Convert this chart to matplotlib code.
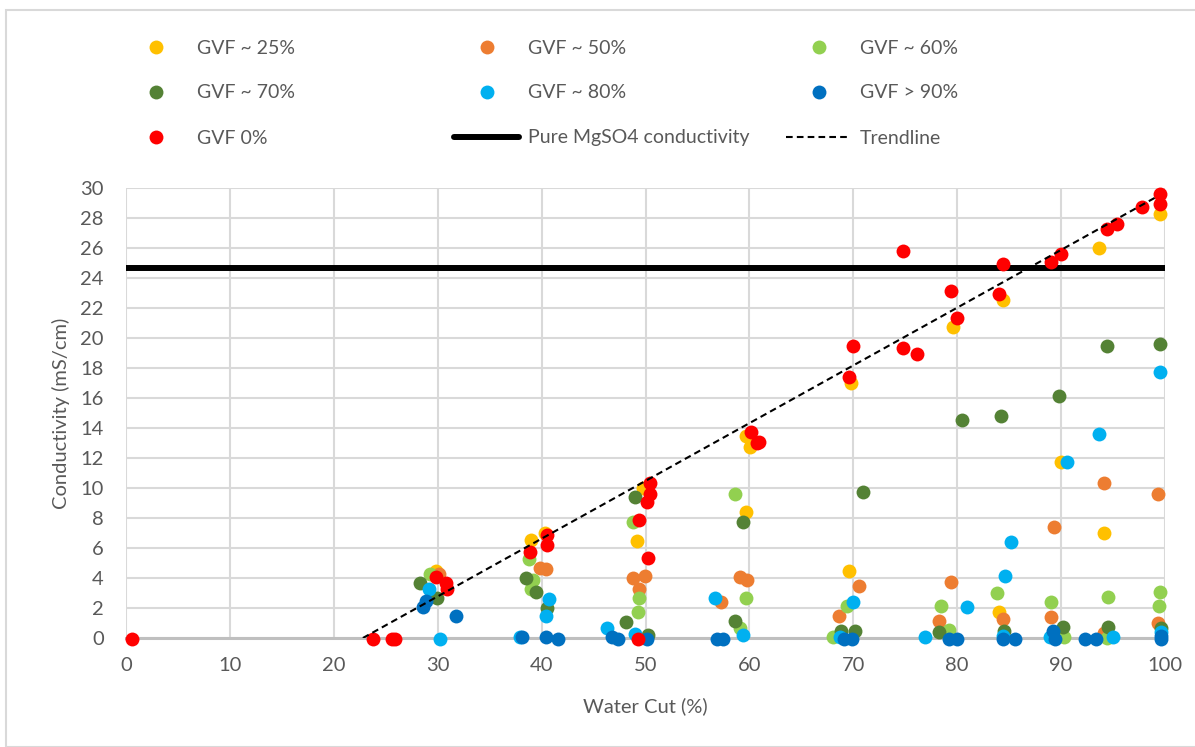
import numpy as np
import matplotlib.pyplot as plt
from matplotlib.lines import Line2D
from matplotlib.patches import Rectangle

plt.rcParams['font.family'] = ['Lato', 'DejaVu Sans']

# GVF ~25%
x25 = [29.8, 38.95, 40.3, 49.8, 49.15, 69.75, 59.7, 60.05, 59.7, 69.6, 79.55, 84.4, 93.6, 99.5, 89.96, 94.15, 84.0]
y25 = [4.5, 6.53, 6.98, 10.0, 6.47, 17.0, 13.47, 12.75, 8.42, 4.47, 20.7, 22.53, 25.98, 28.25, 11.75, 6.98, 1.75]
# GVF ~50%
x50 = [30.1, 39.8, 40.4, 48.8, 49.95, 49.4, 59.1, 59.8, 57.3, 68.6, 70.55, 79.4, 78.25, 94.15, 99.35, 89.35, 84.4, 89.0, 99.35, 94.1]
y50 = [4.3, 4.7, 4.6, 3.98, 4.13, 3.3, 4.04, 3.9, 2.42, 1.49, 3.49, 3.76, 1.13, 10.3, 9.6, 7.38, 1.24, 1.38, 1.0, 0.32]
# GVF ~60%
x60 = [29.26, 38.8, 39.2, 39.0, 48.8, 49.4, 49.25, 58.6, 59.7, 59.1, 68.0, 69.4, 78.4, 79.25, 83.8, 89.0, 94.55, 99.5, 99.4, 90.3, 94.4]
y60 = [4.3, 5.3, 3.87, 3.3, 7.75, 2.7, 1.75, 9.6, 2.7, 0.65, 0.05, 2.13, 2.15, 0.53, 2.98, 2.42, 2.71, 3.09, 2.15, 0.05, 0.02]
# GVF ~70%
x70 = [28.3, 29.9, 38.5, 39.5, 40.55, 49.0, 48.1, 50.2, 59.4, 58.6, 70.9, 68.8, 70.2, 78.25, 80.5, 84.2, 89.8, 94.4, 99.5, 90.15, 94.55, 99.6, 84.5]
y70 = [3.65, 2.65, 4.0, 3.1, 2.0, 9.37, 1.1, 0.2, 7.75, 1.13, 9.73, 0.5, 0.47, 0.42, 14.53, 14.8, 16.13, 19.47, 19.6, 0.75, 0.75, 0.7, 0.49]
# GVF ~80%
x80 = [29.2, 30.2, 40.75, 40.4, 46.3, 37.9, 49.0, 56.7, 59.4, 70.0, 68.7, 76.9, 80.9, 84.6, 85.15, 90.55, 93.6, 99.5, 84.4, 88.9, 95.0, 99.6]
y80 = [3.25, -0.05, 2.6, 1.5, 0.7, 0.05, 0.3, 2.7, 0.2, 2.42, 0.1, 0.05, 2.04, 4.16, 6.42, 11.75, 13.6, 17.73, 0.13, 0.05, 0.05, 0.38]
# GVF >90%
x90 = [28.9, 28.6, 31.8, 38.1, 40.4, 41.55, 46.8, 47.4, 50.1, 56.9, 57.5, 69.1, 69.9, 79.25, 79.95, 84.4, 85.55, 89.2, 89.4, 92.3, 93.4, 99.6, 99.6]
y90 = [2.5, 2.05, 1.5, 0.05, 0.05, -0.05, 0.1, -0.05, -0.05, -0.05, -0.05, -0.05, -0.05, -0.05, -0.05, -0.05, -0.05, 0.49, -0.05, -0.05, -0.05, 0.15, -0.05]
# GVF 0%
x0 = [0.6, 23.8, 25.6, 25.9, 29.8, 30.8, 30.9, 38.9, 40.55, 40.55, 50.4, 50.4, 50.1, 49.4, 50.2, 49.25,
      60.15, 60.7, 60.95, 69.95, 69.6, 74.75, 76.1, 74.75, 79.4, 79.95, 84.0, 84.4, 89.0, 89.96, 94.4, 95.35, 97.8, 99.5, 99.5]
y0 = [-0.05, -0.05, -0.05, -0.05, 4.05, 3.65, 3.25, 5.75, 6.87, 6.2, 10.3, 9.6, 9.1, 7.87, 5.35, -0.05,
      13.75, 13.0, 13.1, 19.47, 17.4, 19.3, 18.93, 25.8, 23.15, 21.3, 22.93, 24.9, 25.05, 25.58, 27.27, 27.6, 28.75, 29.6, 28.9]

mgso4 = 24.65
trend_x = [22.8, 99.0]
trend_slope = 0.385

series = [
    (x25, y25, '#FFC000', 'GVF ~ 25%'),
    (x50, y50, '#ED7D31', 'GVF ~ 50%'),
    (x60, y60, '#92D050', 'GVF ~ 60%'),
    (x70, y70, '#548235', 'GVF ~ 70%'),
    (x80, y80, '#00B0F0', 'GVF ~ 80%'),
    (x90, y90, '#0070C0', 'GVF > 90%'),
    (x0, y0, '#FF0000', 'GVF 0%'),
]

W, H = 1195, 747
fig = plt.figure(figsize=(W/100, H/100), dpi=100)
fig.patches.append(Rectangle((6/W, 0), 1.0, 1 - 10/H, transform=fig.transFigure,
                             fill=False, edgecolor='#d9d9d9', linewidth=1.5))
ax = fig.add_axes([126/W, 1 - 638/H, (1165 - 126)/W, (638 - 188)/H])

ax.plot([0, 100], [mgso4, mgso4], color='black', lw=4.3, solid_capstyle='butt', zorder=2)
tx = np.array(trend_x)
ax.plot(tx, trend_slope*(tx - trend_x[0]), color='black', lw=1.5, dashes=(3.2, 2.0), zorder=4)

handles = {}
for xs, ys, c, lab in series:
    h, = ax.plot(xs, ys, 'o', color=c, markersize=10, markeredgewidth=0, clip_on=False, zorder=3)
    handles[lab] = h

ax.set_xlim(0, 100)
ax.set_ylim(0, 30)
ax.set_xticks(np.arange(0, 101, 10))
ax.set_yticks(np.arange(0, 31, 2))
ax.grid(True, color='#d9d9d9', lw=1.5)
ax.set_axisbelow(True)
for s in ['top', 'right', 'left']:
    ax.spines[s].set_visible(False)
ax.spines['bottom'].set_color('#bfbfbf')
ax.spines['bottom'].set_linewidth(2.2)
ax.tick_params(axis='x', length=0, pad=14, labelsize=14.5, labelcolor='#595959')
ax.tick_params(axis='y', length=0, pad=16, labelsize=14.5, labelcolor='#595959')
ax.set_xlabel('Water Cut (%)', fontsize=14.5, color='#595959')
ax.set_ylabel('Conductivity (mS/cm)', fontsize=14.5, color='#595959')
ax.xaxis.set_label_coords(0.5, (638 - 697)/450)
ax.yaxis.set_label_coords((70 - 126)/1039, 0.5)

mg_h = Line2D([], [], color='black', lw=4.3, solid_capstyle='round')
tr_h = Line2D([], [], color='black', lw=1.5, dashes=(3.2, 2.0))
# legend grid: handle left edge per column, row centre per row (pixels)
col_px = [123, 454, 786]
row_px = [48, 93, 138]
entries = [
    [(handles['GVF ~ 25%'], 'GVF ~ 25%'), (handles['GVF ~ 50%'], 'GVF ~ 50%'), (handles['GVF ~ 60%'], 'GVF ~ 60%')],
    [(handles['GVF ~ 70%'], 'GVF ~ 70%'), (handles['GVF ~ 80%'], 'GVF ~ 80%'), (handles['GVF > 90%'], 'GVF > 90%')],
    [(handles['GVF 0%'], 'GVF 0%'), (mg_h, 'Pure MgSO4 conductivity'), (tr_h, 'Trendline')],
]
for r, row in enumerate(entries):
    for c, (h, lab) in enumerate(row):
        fig.legend([h], [lab], loc='center left', bbox_to_anchor=(col_px[c]/W, 1 - row_px[r]/H),
                   frameon=False, fontsize=14, handlelength=3.35, handletextpad=0.45,
                   borderpad=0, borderaxespad=0, labelcolor='#595959')

fig.savefig('out.png', dpi=100)
